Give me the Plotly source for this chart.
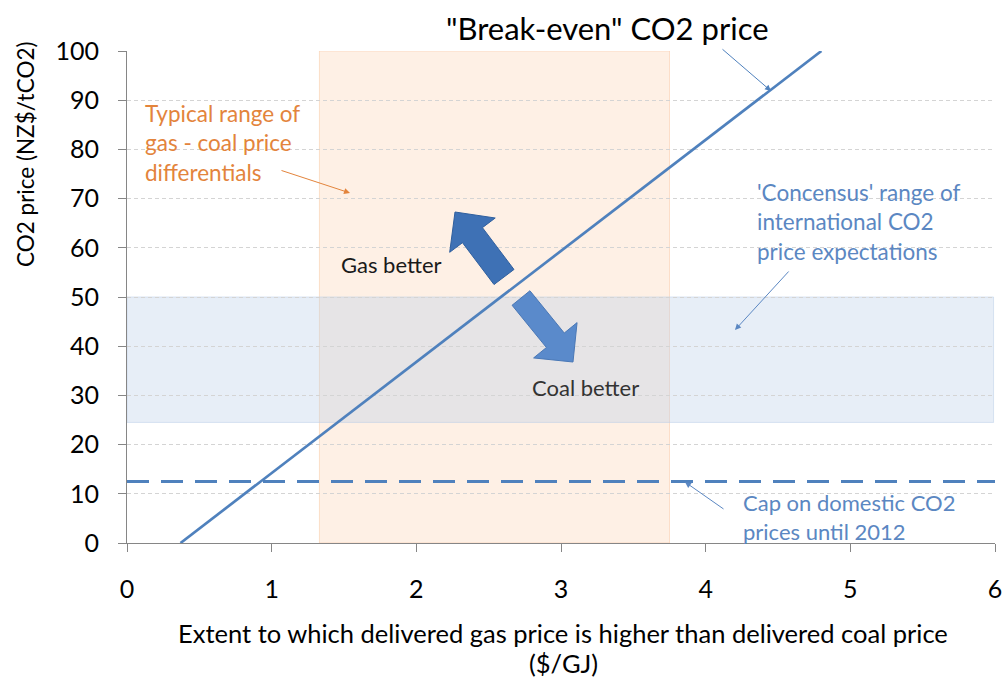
import plotly.graph_objects as go
import math

# ---------------- data ----------------
breakeven_x = [0.37, 4.80]      # $/GJ gas-coal differential
breakeven_y = [0, 100]          # NZ$/tCO2
cap_x = [0, 6]
cap_y = [12.5, 12.5]            # cap on domestic CO2 price
gas_coal_range = [1.33, 3.75]   # typical gas-coal price differential range (x)
consensus_range = [24.5, 50]    # international CO2 price expectations (y)
x_ticks = [0, 1, 2, 3, 4, 5, 6]
y_ticks = [0, 10, 20, 30, 40, 50, 60, 70, 80, 90, 100]
x_range = [0, 6]
y_range = [0, 100]

# ---------------- layout geometry ----------------
W, H = 1007, 679
ML, MR, MT, MB = 127, 12, 51, 136
PW, PH = W - ML - MR, H - MT - MB
FONT = "Lato"
LINE_BLUE = "#4f81bd"
TEXT_BLUE = "#5b87c2"
ORANGE = "#e3843c"


def px_to_data(px, py):
    x = x_range[0] + (px - ML) / PW * (x_range[1] - x_range[0])
    y = y_range[0] + (MT + PH - py) / PH * (y_range[1] - y_range[0])
    return x, y


def data_to_px(x, y):
    px = ML + (x - x_range[0]) / (x_range[1] - x_range[0]) * PW
    py = MT + PH - (y - y_range[0]) / (y_range[1] - y_range[0]) * PH
    return px, py


def block_arrow_path(tail, tip, shaft_w, head_w, head_len):
    tx, ty = data_to_px(*tail)
    hx, hy = data_to_px(*tip)
    L = math.hypot(hx - tx, hy - ty)
    ux, uy = (hx - tx) / L, (hy - ty) / L
    nx, ny = -uy, ux
    bx, by = hx - ux * head_len, hy - uy * head_len
    pts = [
        (tx + nx * shaft_w / 2, ty + ny * shaft_w / 2),
        (bx + nx * shaft_w / 2, by + ny * shaft_w / 2),
        (bx + nx * head_w / 2, by + ny * head_w / 2),
        (hx, hy),
        (bx - nx * head_w / 2, by - ny * head_w / 2),
        (bx - nx * shaft_w / 2, by - ny * shaft_w / 2),
        (tx - nx * shaft_w / 2, ty - ny * shaft_w / 2),
    ]
    d = []
    for i, (px, py) in enumerate(pts):
        x, y = px_to_data(px, py)
        d.append(("M" if i == 0 else "L") + f"{x:.4f},{y:.4f}")
    return " ".join(d) + " Z"


fig = go.Figure()

fig.add_trace(go.Scatter(x=cap_x, y=cap_y, mode="lines",
                         line=dict(color=LINE_BLUE, width=3, dash="22px,12px"),
                         hoverinfo="skip", showlegend=False))
fig.add_trace(go.Scatter(x=breakeven_x, y=breakeven_y, mode="lines",
                         line=dict(color=LINE_BLUE, width=2.7),
                         hoverinfo="skip", showlegend=False))

shapes = [
    dict(type="rect", xref="x", yref="y", x0=gas_coal_range[0], x1=gas_coal_range[1],
         y0=y_range[0], y1=y_range[1], layer="below",
         fillcolor="rgba(250,200,160,0.28)", line=dict(color="rgba(248,190,150,0.45)", width=1)),
    dict(type="rect", xref="x", yref="y", x0=x_range[0], x1=5.99,
         y0=consensus_range[0], y1=consensus_range[1], layer="below",
         fillcolor="rgba(185,205,232,0.35)", line=dict(color="rgba(185,205,232,0.5)", width=1)),
]

# block arrows (pixel-based geometry converted through axis scales)
gas_tail, gas_tip = px_to_data(504, 277), px_to_data(455, 212)
coal_tail, coal_tip = px_to_data(521, 298), px_to_data(573, 362)
shapes.append(dict(type="path", xref="x", yref="y",
                   path=block_arrow_path(gas_tail, gas_tip, 25, 57, 29),
                   fillcolor="#3e71b5", line=dict(color="#2f5f9e", width=1)))
shapes.append(dict(type="path", xref="x", yref="y",
                   path=block_arrow_path(coal_tail, coal_tip, 23, 56, 28),
                   fillcolor="#5a8acb", line=dict(color="#4a78b6", width=1)))

annotations = []


def text_ann(px, py, text, color, size, xanchor="left"):
    x, y = px_to_data(px, py)
    annotations.append(dict(x=x, y=y, xref="x", yref="y", text=text, showarrow=False,
                            xanchor=xanchor, yanchor="middle",
                            font=dict(family=FONT, size=size, color=color)))


def arrow_ann(tail_px, tip_px, color):
    x, y = px_to_data(*tip_px)
    annotations.append(dict(x=x, y=y, xref="x", yref="y", text="", showarrow=True,
                            ax=tail_px[0] - tip_px[0], ay=tail_px[1] - tip_px[1],
                            arrowhead=2, arrowsize=1.2, arrowwidth=1, arrowcolor=color))


# title
annotations.append(dict(x=(607 - ML) / PW, y=(MT + PH - 28) / PH, xref="paper", yref="paper",
                        text='"Break-even" CO2 price', showarrow=False,
                        xanchor="center", yanchor="middle",
                        font=dict(family=FONT, size=31, color="#000000")))
arrow_ann((721, 48), (771, 91), LINE_BLUE)

# orange note
for i, t in enumerate(["Typical range of", "gas - coal price", "differentials"]):
    text_ann(143, 113 + 29.5 * i, t, ORANGE, 22.5)
arrow_ann((280, 170), (350, 193), ORANGE)

# consensus note
for i, t in enumerate(["'Concensus' range of", "international CO2", "price expectations"]):
    text_ann(755, 192 + 29.5 * i, t, TEXT_BLUE, 22.5)
arrow_ann((790, 270), (735, 330), TEXT_BLUE)

# cap note
for i, t in enumerate(["Cap on domestic CO2", "prices until 2012"]):
    text_ann(741, 502 + 29 * i, t, TEXT_BLUE, 22)
arrow_ann((725, 510), (685, 482), TEXT_BLUE)

text_ann(391, 264, "Gas better", "#1a1a1a", 22, "center")
text_ann(585, 387, "Coal better", "#333333", 22, "center")

# axis titles as annotations
annotations.append(dict(x=(25 - ML) / PW, y=(MT + PH - 155) / PH, xref="paper", yref="paper",
                        text="CO2 price (NZ$/tCO2)", textangle=-90, showarrow=False,
                        xanchor="center", yanchor="middle",
                        font=dict(family=FONT, size=22.5, color="#000000")))
for i, t in enumerate(["Extent to which delivered gas price is higher than delivered coal price",
                       "($/GJ)"]):
    annotations.append(dict(x=(563 - ML) / PW, y=(MT + PH - (633 + 30 * i)) / PH,
                            xref="paper", yref="paper", text=t, showarrow=False,
                            xanchor="center", yanchor="middle",
                            font=dict(family=FONT, size=25.5, color="#000000")))

axis_common = dict(showline=True, linecolor="#868686", linewidth=1, ticks="outside",
                   ticklen=8, tickcolor="#868686", zeroline=False, automargin=False,
                   tickfont=dict(family=FONT, size=25, color="#000000"))

fig.update_layout(
    width=W, height=H, margin=dict(l=ML, r=MR, t=MT, b=MB, pad=0, autoexpand=False),
    paper_bgcolor="white", plot_bgcolor="white",
    shapes=shapes, annotations=annotations,
    xaxis=dict(range=x_range, tickvals=x_ticks, showgrid=False,
               ticklabelstandoff=16, **axis_common),
    yaxis=dict(range=y_range, tickvals=y_ticks, showgrid=True, gridcolor="#d4d4d4",
               griddash="4px,3px", gridwidth=1, ticklabelstandoff=14, **axis_common),
    showlegend=False,
)

fig.write_html("out.html", config={"displayModeBar": False},
               post_script="document.body.style.margin='0';document.body.style.padding='0';")
